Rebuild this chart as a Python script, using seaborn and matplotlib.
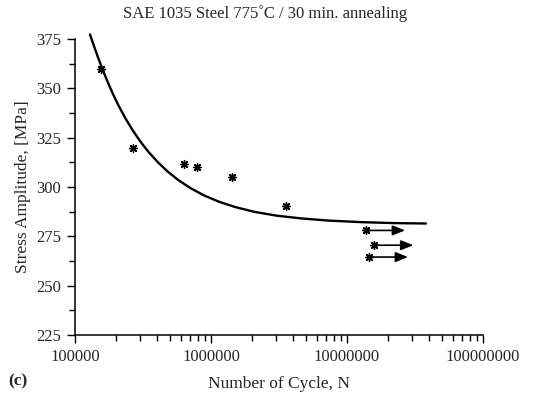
import numpy as np
import pandas as pd
import matplotlib
matplotlib.use("Agg")
import matplotlib.pyplot as plt
from matplotlib.ticker import FixedLocator, LogLocator, NullFormatter, FuncFormatter, MultipleLocator
import seaborn as sns

# ---- data ----
test_cycles = [155000, 269000, 631000, 793000, 1430000, 3573000]
test_stress = [360, 320, 311.5, 310, 305, 290.3]

runout_cycles = [13710000, 15780000, 14420000]
runout_stress = [278, 270.5, 264.5]

curve_cycles = [128800, 138000, 147900, 158500, 173800, 190500, 208900, 234400,
                263000, 302000, 346700, 407400, 478600, 575400, 707900, 891300,
                1148000, 1514000, 2089000, 3020000, 4571000, 7244000, 12590000,
                22390000, 38020000]
curve_stress = [377.3, 371.4, 365.5, 360.0, 353.3, 347.0, 341.3, 334.9,
                329.2, 323.1, 317.8, 312.5, 307.9, 303.5, 299.4, 295.7,
                292.5, 289.8, 287.4, 285.5, 284.1, 283.0, 282.2,
                281.7, 281.5]

x_ticks = [100000, 1000000, 10000000, 100000000]
y_ticks = [225, 250, 275, 300, 325, 350, 375]

title = "SAE 1035 Steel 775\u02daC / 30 min. annealing"
xlabel = "Number of Cycle, N"
ylabel = "Stress Amplitude, [MPa]"
panel = "(c)"

# ---- style ----
sns.set_style("ticks")
plt.rcParams['font.family'] = ['Liberation Serif', 'DejaVu Serif']
plt.rcParams['xtick.direction'] = 'out'
plt.rcParams['ytick.direction'] = 'out'

fig = plt.figure(figsize=(5.51, 4.01), dpi=100)
L, R, T, B = 75, 483, 39, 335
ax = fig.add_axes([L/551, 1-B/401, (R-L)/551, (B-T)/401])

curve_df = pd.DataFrame({"N": curve_cycles, "S": curve_stress})
test_df = pd.DataFrame({"N": test_cycles, "S": test_stress})
run_df = pd.DataFrame({"N": runout_cycles, "S": runout_stress})

ax.set_xscale("log")
sns.lineplot(data=curve_df, x="N", y="S", ax=ax, color="black", lw=1.7,
             sort=False, clip_on=False, zorder=3, solid_joinstyle="round")
star = (8, 2, 0)
sns.scatterplot(data=test_df, x="N", y="S", ax=ax, marker=star, s=32,
                color="black", edgecolor="black", linewidth=1.0, zorder=4)
sns.scatterplot(data=run_df, x="N", y="S", ax=ax, marker=star, s=32,
                color="black", edgecolor="black", linewidth=1.0, zorder=4)

for n, s in zip(runout_cycles, runout_stress):
    ax.annotate("", xy=(n * 1.95, s), xytext=(n * 1.06, s),
                arrowprops=dict(arrowstyle="-|>,head_length=0.75,head_width=0.3",
                                color="black", lw=1.2, shrinkA=0, shrinkB=0))

ax.set_xlim(1e5, 1e8)
ax.set_ylim(225, 375)
ax.xaxis.set_major_locator(FixedLocator(x_ticks))
ax.xaxis.set_major_formatter(FuncFormatter(lambda v, p: f"{int(round(v))}"))
ax.xaxis.set_minor_locator(LogLocator(base=10, subs=np.arange(2, 10)))
ax.xaxis.set_minor_formatter(NullFormatter())
ax.yaxis.set_major_locator(FixedLocator(y_ticks))
ax.yaxis.set_minor_locator(MultipleLocator(12.5))

ax.tick_params(which="major", length=6, width=1, labelsize=12, color="black", pad=4)
ax.tick_params(which="minor", length=4, width=1, color="black")
for sp in ["top", "right"]:
    ax.spines[sp].set_visible(False)
for sp in ["left", "bottom"]:
    ax.spines[sp].set_linewidth(1.1)
    ax.spines[sp].set_color("black")

ax.set_xlabel(xlabel, fontsize=12.5, labelpad=8)
ax.set_ylabel(ylabel, fontsize=12.5, labelpad=4)
fig.text(265/551, 1-14/401, title, ha="center", va="center", fontsize=12)
fig.text(8/551, 1-381/401, panel, ha="left", va="center", fontsize=12.5, fontweight="bold")

fig.savefig("out.png", dpi=100)
